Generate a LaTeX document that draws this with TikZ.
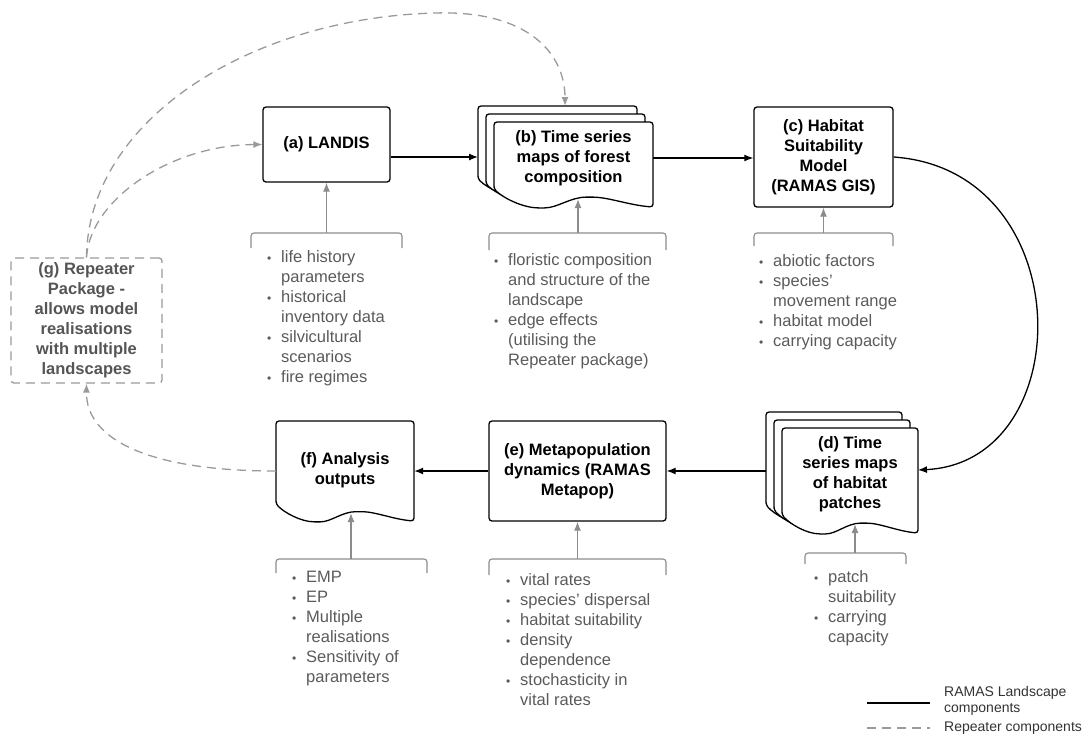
\documentclass[tikz,border=0pt]{standalone}
\usepackage{fontspec}
\setmainfont{Liberation Sans}
\usetikzlibrary{arrows.meta}

\definecolor{inputgray}{HTML}{8C8C8C}
\definecolor{listgray}{HTML}{5A5A5A}
\definecolor{repgray}{HTML}{9A9A9A}
\definecolor{gtext}{HTML}{555555}

\newcommand{\bxfont}{\fontsize{16.5}{20}\selectfont\bfseries}
\newcommand{\lsfont}{\fontsize{16.5}{20}\selectfont}
\newcommand{\lgfont}{\fontsize{14}{16.5}\selectfont}
\newcommand{\bul}{\raisebox{0.5pt}{\fontsize{12}{20}\selectfont\textbullet}}

% one page of a document shape: left, right, top, left bottom, right bottom
\newcommand{\docpage}[5]{%
  \filldraw[docline] ({#1},{#4}) -- ({#1},{#3}) -- ({#2},{#3}) -- ({#2},{#5})
    .. controls ({(#1)+0.85*((#2)-(#1))},{(#5)-0.1*((#5)-(#4))}) and ({(#1)+0.72*((#2)-(#1))},{(#5)-0.55*((#5)-(#4))})
    .. ({(#1)+0.6*((#2)-(#1))},{(#5)-0.55*((#5)-(#4))})
    .. controls ({(#1)+0.48*((#2)-(#1))},{(#5)-0.55*((#5)-(#4))}) and ({(#1)+0.4*((#2)-(#1))},{(#5)+0.05*((#5)-(#4))})
    .. ({(#1)+0.3*((#2)-(#1))},{(#5)+0.05*((#5)-(#4))})
    .. controls ({(#1)+0.18*((#2)-(#1))},{(#5)+0.05*((#5)-(#4))}) and ({(#1)+0.06*((#2)-(#1))},{(#4)+0.5*((#5)-(#4))})
    .. cycle;}
% three pages stacked
\newcommand{\docstack}[5]{%
  \docpage{#1-16}{#2-16}{#3-16}{#4-10}{#5-10}
  \docpage{#1-8}{#2-8}{#3-8}{#4-5}{#5-5}
  \docpage{#1}{#2}{#3}{#4}{#5}}
% bracket over an input list: left, right, top, bottom
\newcommand{\inbracket}[4]{\draw[bracket] (#1,#4) -- (#1,#3) -- (#2,#3) -- (#2,#4);}

\tikzset{
  box/.style={draw, line width=1.3pt, rounded corners=3pt, align=center, inner sep=0pt, font=\bxfont},
  doctext/.style={align=center, inner sep=0pt, font=\bxfont},
  docline/.style={draw=black, fill=white, line width=1.3pt, rounded corners=3pt},
  repbox/.style={draw=repgray, line width=1.3pt, dash pattern=on 9pt off 6pt, rounded corners=3pt,
    align=center, inner sep=0pt, text=gtext, font=\bxfont},
  flow/.style={line width=1.3pt, -{Latex[length=9pt,width=7pt]}},
  feed/.style={draw=inputgray, line width=1.3pt, -{Latex[length=9pt,width=7pt]}},
  repeat/.style={draw=repgray, line width=1.3pt, dash pattern=on 9pt off 6pt, -{Latex[length=9pt,width=7pt]}},
  bracket/.style={draw=inputgray, line width=1.1pt, rounded corners=3pt},
  inlist/.style={anchor=base west, inner sep=0pt, text=listgray, font=\lsfont},
  legtext/.style={anchor=west, inner sep=0pt, align=left, text=black!80, font=\lgfont}
}

\begin{document}
\begin{tikzpicture}[x=1pt,y=-1pt]
\useasboundingbox (0,0) rectangle (1088,740);

% pages
\docstack{494}{653}{122}{189}{207}
\docstack{782}{918}{428}{515}{533}
\docpage{276}{414}{421}{504}{521}

% components
\node[box, minimum width=127pt, minimum height=75pt] (a) at (326.5,144.5) {(a) LANDIS};
\node[doctext, minimum width=159pt] (b) at (573.5,158) {(b) Time series\\maps of forest\\composition};
\node[box, minimum width=139pt, minimum height=100pt] (c) at (823.5,157) {(c) Habitat\\Suitability\\Model\\(RAMAS GIS)};
\node[doctext, minimum width=136pt] (d) at (850,474) {(d) Time\\series maps\\of habitat\\patches};
\node[box, minimum width=177pt, minimum height=100pt] (e) at (577.5,471) {(e) Metapopulation\\dynamics (RAMAS\\Metapop)};
\node[doctext, minimum width=138pt] (f) at (345,470) {(f) Analysis\\outputs};
\node[repbox, minimum width=151pt, minimum height=125pt] (g) at (86.5,320.5) {(g) Repeater\\Package -\\allows model\\realisations\\with multiple\\landscapes};

\coordinate (bback) at (478,157);
\coordinate (btop) at (565,106);
\coordinate (bbot) at (578,199);
\coordinate (dback) at (766,471);
\coordinate (dright) at (918,470);
\coordinate (dbot) at (855,524);
\coordinate (fbot) at (351,513);

% RAMAS Landscape flow
\draw[flow] (a.east |- bback) -- (bback);
\draw[flow] (b.east) -- (c.west |- b.east);
\draw[flow] (c.east) .. controls (1080,170) and (1080,462) .. (dright);
\draw[flow] (dback) -- (e.east |- dback);
\draw[flow] (e.west) -- (f.east |- e.west);

% repeater
\draw[repeat] (f.west |- e.west) .. controls (150,471) and (86,440) .. (g.south);
\draw[repeat] (g.north) .. controls (90,200) and (170,145) .. (a.west);
\draw[repeat] (g.north) .. controls (88,120) and (250,18) .. (435,13) .. controls (530,10) and (565,55) .. (btop);

% inputs
\inbracket{251}{402}{233}{248}
\coordinate (ta) at (326.5,233);
\draw[feed] (ta) -- (a.south);
\node[inlist] (ina) at (267,262.5) {\begin{tabular}[t]{@{}p{14pt}@{}l@{}}
\bul & life history\\ & parameters\\
\bul & historical\\ & inventory data\\
\bul & silvicultural\\ & scenarios\\
\bul & fire regimes
\end{tabular}};

\inbracket{489}{666}{233}{250}
\coordinate (tb) at (578,233);
\draw[feed] (tb) -- (bbot);
\node[inlist] (inb) at (494,265.5) {\begin{tabular}[t]{@{}p{14pt}@{}l@{}}
\bul & floristic composition\\ & and structure of the\\ & landscape\\
\bul & edge effects\\ & (utilising the\\ & Repeater package)
\end{tabular}};

\inbracket{754}{893}{233}{246}
\coordinate (tc) at (823.5,233);
\draw[feed] (tc) -- (c.south);
\node[inlist] (inc) at (759,266.5) {\begin{tabular}[t]{@{}p{14pt}@{}l@{}}
\bul & abiotic factors\\
\bul & species’\\ & movement range\\
\bul & habitat model\\
\bul & carrying capacity
\end{tabular}};

\inbracket{805}{906}{553}{564}
\coordinate (td) at (855,553);
\draw[feed] (td) -- (dbot);
\node[inlist] (ind) at (814,582.5) {\begin{tabular}[t]{@{}p{14pt}@{}l@{}}
\bul & patch\\ & suitability\\
\bul & carrying\\ & capacity
\end{tabular}};

\inbracket{489}{666}{559}{575}
\coordinate (te) at (577.5,559);
\draw[feed] (te) -- (e.south);
\node[inlist] (ine) at (506,585.5) {\begin{tabular}[t]{@{}p{14pt}@{}l@{}}
\bul & vital rates\\
\bul & species’ dispersal\\
\bul & habitat suitability\\
\bul & density\\ & dependence\\
\bul & stochasticity in\\ & vital rates
\end{tabular}};

\inbracket{276}{427}{559}{573}
\coordinate (tf) at (351,559);
\draw[feed] (tf) -- (fbot);
\node[inlist] (inf) at (292,582.5) {\begin{tabular}[t]{@{}p{14pt}@{}l@{}}
\bul & EMP\\
\bul & EP\\
\bul & Multiple\\ & realisations\\
\bul & Sensitivity of\\ & parameters
\end{tabular}};

% legend
\coordinate (k1a) at (867,703);
\coordinate (k1b) at (930,703);
\draw[line width=1.3pt] (k1a) -- (k1b);
\node[legtext] (k1) at (944,701) {RAMAS Landscape\\components};
\coordinate (k2a) at (867,728);
\coordinate (k2b) at (930,728);
\draw[draw=repgray, line width=1.3pt, dash pattern=on 9pt off 6pt] (k2a) -- (k2b);
\node[legtext] (k2) at (944,728) {Repeater components};
\end{tikzpicture}
\end{document}
